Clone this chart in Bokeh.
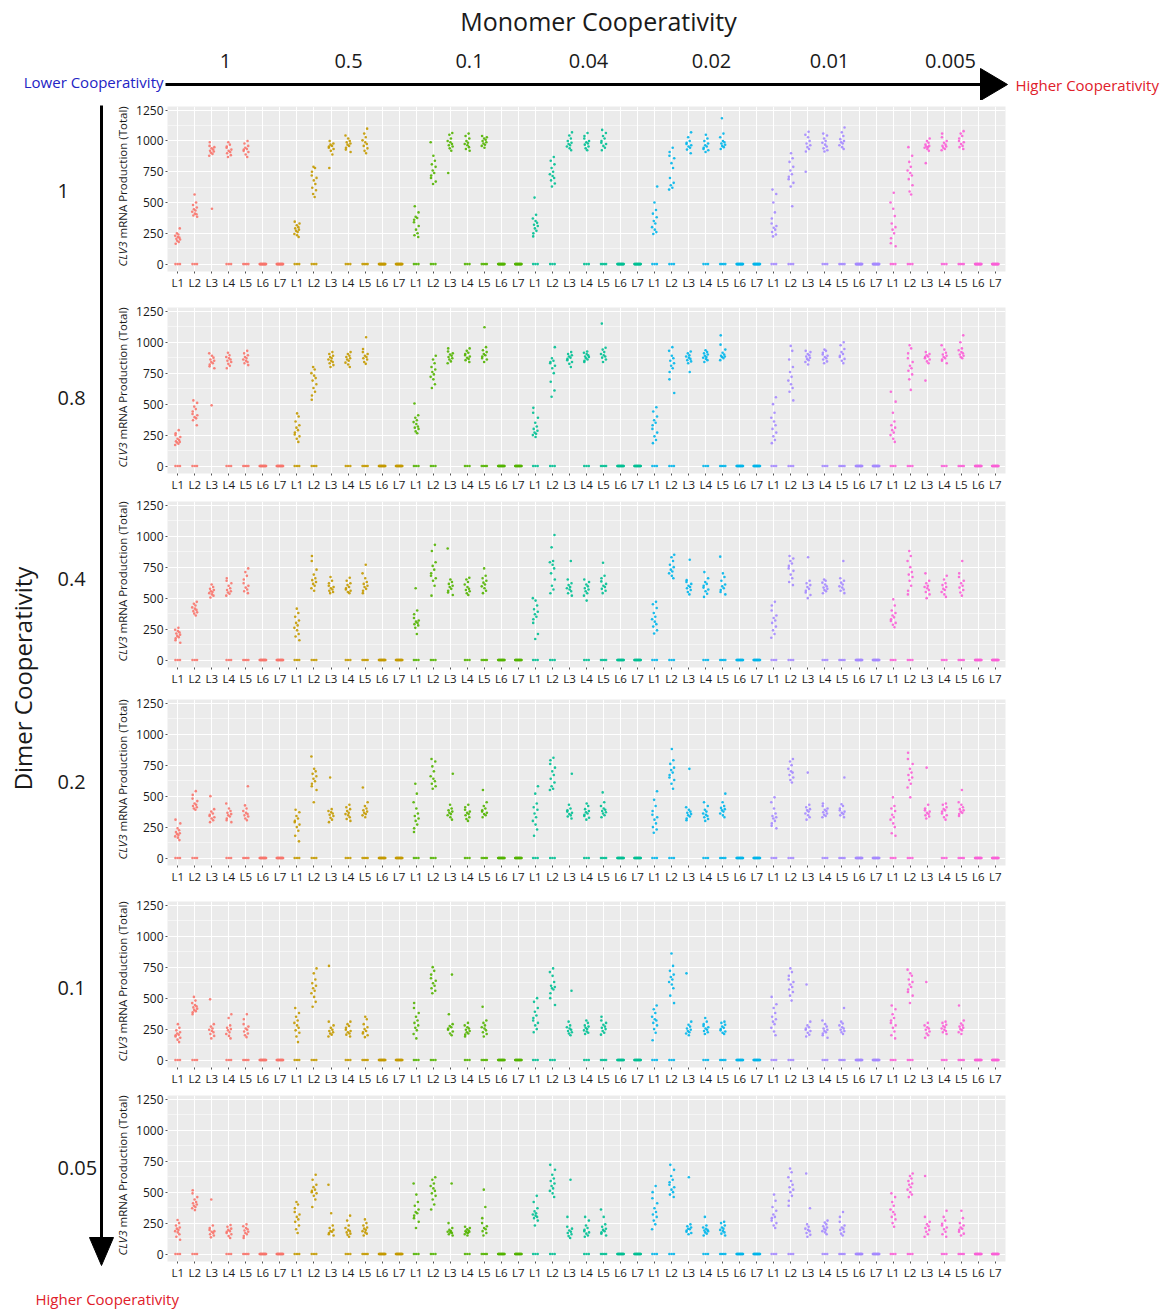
import math
from bokeh.plotting import figure
from bokeh.layouts import column, row
from bokeh.models import Range1d, FixedTicker, ColumnDataSource
from bokeh.core.properties import value
from bokeh.embed import file_html
from bokeh.resources import INLINE

# ---------------- data ----------------
LINES = ["L1", "L2", "L3", "L4", "L5", "L6", "L7"]
MONOMER = ["1", "0.5", "0.1", "0.04", "0.02", "0.01", "0.005"]
DIMER = ["1", "0.8", "0.4", "0.2", "0.1", "0.05"]
# number of plants with zero production, per line (L1..L7)
ZERO_COUNTS = [3, 3, 0, 3, 4, 16, 16]

# Dimer cooperativity 1 (values of the non-zero plants for L1..L5; L6, L7 are all zero)
R1G1 = [[165, 180, 190, 200, 205, 215, 220, 230, 240, 250, 290],
        [385, 395, 405, 410, 425, 435, 445, 460, 480, 500, 565],
        [450, 880, 895, 905, 915, 920, 930, 940, 950, 960, 990],
        [870, 885, 900, 910, 920, 930, 945, 955, 970, 990],
        [870, 890, 910, 920, 930, 935, 945, 960, 980, 1000]]
R1G2 = [[220, 235, 245, 260, 270, 280, 290, 300, 315, 330, 345],
        [545, 570, 600, 620, 650, 680, 700, 720, 750, 780, 790],
        [780, 890, 920, 935, 945, 955, 960, 970, 980, 1000],
        [910, 930, 945, 960, 970, 980, 990, 1000, 1020, 1045],
        [900, 920, 940, 960, 975, 990, 1005, 1030, 1060, 1100]]
R1G3 = [[220, 235, 250, 280, 310, 340, 360, 375, 385, 420, 470],
        [650, 670, 700, 720, 740, 760, 790, 810, 840, 880, 990],
        [740, 920, 940, 955, 965, 975, 990, 1000, 1020, 1050, 1065],
        [920, 935, 950, 965, 975, 985, 1000, 1020, 1040, 1060],
        [945, 960, 970, 980, 990, 1000, 1010, 1020, 1030, 1040]]
R1G4 = [[225, 250, 270, 290, 310, 320, 335, 350, 370, 400, 540],
        [630, 655, 680, 700, 715, 730, 750, 780, 810, 840, 870],
        [925, 940, 955, 965, 975, 985, 1000, 1020, 1045, 1070],
        [925, 940, 955, 970, 980, 990, 1000, 1020, 1040, 1065],
        [925, 945, 960, 975, 985, 1000, 1020, 1040, 1065, 1090]]
R1G5 = [[245, 260, 280, 300, 330, 350, 380, 410, 440, 500, 630],
        [605, 620, 640, 660, 700, 780, 820, 860, 880, 910, 945],
        [900, 930, 945, 955, 965, 975, 985, 1000, 1030, 1070],
        [910, 925, 935, 945, 955, 965, 980, 1000, 1020, 1050],
        [935, 950, 960, 970, 980, 990, 1000, 1030, 1060, 1185]]
R1G6 = [[225, 240, 260, 280, 295, 310, 330, 370, 420, 500, 570, 605],
        [470, 630, 660, 690, 710, 730, 760, 790, 830, 860, 900],
        [750, 915, 935, 950, 965, 980, 1000, 1030, 1050, 1075],
        [915, 925, 940, 955, 970, 985, 1000, 1020, 1045, 1060],
        [935, 950, 965, 980, 990, 1000, 1015, 1040, 1070, 1110]]
R1G7 = [[145, 170, 210, 250, 280, 300, 330, 390, 450, 500, 580],
        [565, 590, 640, 690, 720, 740, 760, 790, 830, 880, 950],
        [820, 920, 935, 945, 950, 955, 960, 970, 985, 1000, 1020],
        [925, 935, 945, 955, 960, 970, 985, 1000, 1030, 1060],
        [935, 950, 960, 975, 990, 1000, 1020, 1040, 1060, 1080]]

# Dimer cooperativity 0.8
R2G1 = [[170, 180, 190, 195, 200, 210, 220, 235, 250, 265, 290],
        [330, 370, 385, 395, 410, 420, 440, 460, 480, 510, 530],
        [490, 790, 805, 820, 830, 840, 850, 860, 875, 890, 910],
        [790, 810, 825, 840, 850, 860, 870, 880, 895, 915],
        [815, 830, 840, 850, 860, 870, 880, 895, 910, 930]]
R2G2 = [[195, 220, 240, 255, 270, 290, 310, 330, 360, 400, 425],
        [535, 570, 600, 630, 660, 690, 710, 730, 750, 780, 800],
        [800, 815, 830, 840, 850, 860, 870, 880, 890, 905, 920],
        [800, 820, 835, 850, 860, 870, 880, 890, 905, 920],
        [825, 840, 860, 870, 880, 890, 905, 920, 945, 1040]]
R2G3 = [[265, 280, 300, 310, 320, 340, 355, 370, 390, 410, 505],
        [630, 660, 700, 720, 740, 760, 780, 800, 830, 860, 890],
        [830, 845, 860, 870, 880, 890, 900, 910, 925, 950],
        [840, 855, 865, 875, 885, 895, 905, 915, 930, 950],
        [840, 860, 870, 885, 895, 905, 920, 935, 960, 1120]]
R2G4 = [[235, 250, 260, 270, 285, 300, 320, 350, 390, 430, 470],
        [560, 610, 680, 750, 790, 810, 830, 840, 850, 870, 960],
        [800, 825, 840, 855, 865, 875, 885, 895, 905, 920],
        [840, 850, 860, 870, 880, 885, 895, 905, 915, 925],
        [840, 860, 875, 885, 895, 905, 920, 940, 955, 1150]]
R2G5 = [[185, 210, 240, 270, 300, 330, 350, 370, 400, 440, 475],
        [590, 700, 760, 790, 810, 830, 850, 870, 890, 930, 960],
        [760, 830, 845, 855, 865, 875, 885, 895, 910, 925],
        [840, 855, 865, 875, 880, 890, 900, 910, 920, 935],
        [855, 870, 880, 885, 890, 900, 915, 940, 980, 1055]]
R2G6 = [[185, 210, 240, 270, 300, 330, 360, 390, 430, 500, 555],
        [530, 600, 630, 660, 690, 720, 760, 800, 860, 930, 970],
        [820, 840, 855, 865, 875, 885, 895, 905, 920, 930],
        [830, 845, 860, 870, 880, 890, 900, 915, 930, 940],
        [830, 850, 865, 880, 890, 905, 920, 945, 975, 1000]]
R2G7 = [[195, 220, 250, 270, 290, 310, 330, 360, 430, 520, 600],
        [615, 700, 740, 770, 790, 810, 840, 870, 910, 950, 975],
        [690, 830, 845, 860, 870, 880, 885, 895, 905, 920],
        [830, 850, 860, 870, 880, 890, 900, 915, 940, 975],
        [870, 880, 890, 900, 910, 920, 935, 950, 1000, 1055]]

# Dimer cooperativity 0.4
R3G1 = [[140, 160, 175, 185, 195, 205, 215, 225, 235, 245, 260],
        [360, 375, 385, 395, 405, 415, 425, 440, 455, 470],
        [505, 520, 530, 540, 550, 555, 565, 575, 590, 610],
        [520, 535, 545, 555, 565, 580, 600, 620, 640, 660],
        [540, 555, 570, 585, 600, 620, 650, 680, 710, 740]]
R3G2 = [[160, 190, 210, 240, 260, 280, 300, 320, 350, 380, 415],
        [560, 580, 600, 615, 630, 645, 660, 690, 730, 800, 840],
        [540, 550, 560, 570, 580, 590, 600, 620, 640, 670],
        [540, 550, 560, 570, 580, 590, 605, 620, 640, 665],
        [540, 560, 575, 590, 600, 615, 630, 660, 700, 770]]
R3G3 = [[210, 260, 280, 290, 300, 310, 320, 340, 370, 400, 580],
        [520, 600, 640, 660, 680, 700, 730, 760, 790, 880, 930],
        [525, 545, 560, 575, 590, 600, 615, 630, 650, 900],
        [525, 540, 555, 565, 575, 590, 610, 630, 650, 665],
        [540, 560, 580, 595, 610, 625, 640, 660, 680, 740]]
R3G4 = [[170, 210, 300, 330, 350, 370, 390, 410, 440, 480, 500],
        [540, 570, 600, 650, 700, 740, 770, 790, 800, 910, 1010],
        [520, 540, 555, 570, 580, 590, 605, 620, 650, 800],
        [480, 520, 540, 555, 570, 580, 595, 610, 630, 650],
        [540, 560, 575, 590, 600, 615, 635, 660, 680, 785]]
R3G5 = [[215, 240, 270, 290, 310, 330, 350, 380, 420, 450, 470],
        [660, 680, 700, 715, 730, 750, 770, 800, 830, 850],
        [530, 550, 565, 580, 590, 600, 615, 630, 645, 810],
        [510, 535, 555, 570, 585, 600, 615, 630, 660, 710],
        [530, 550, 565, 580, 595, 610, 640, 670, 700, 835]]
R3G6 = [[180, 210, 240, 270, 300, 320, 340, 360, 400, 440, 470],
        [605, 630, 660, 690, 720, 740, 760, 780, 800, 820, 840],
        [500, 525, 545, 560, 575, 590, 605, 620, 640, 830],
        [540, 555, 565, 575, 585, 595, 610, 625, 640, 650],
        [540, 560, 570, 585, 595, 610, 625, 640, 660, 800]]
R3G7 = [[265, 285, 300, 315, 330, 345, 360, 380, 400, 440, 490],
        [530, 560, 600, 640, 670, 690, 710, 750, 800, 840, 880],
        [500, 530, 550, 565, 580, 590, 600, 620, 640, 700],
        [510, 530, 550, 565, 575, 590, 605, 620, 650, 680],
        [520, 545, 565, 585, 600, 620, 640, 670, 700, 800]]

# Dimer cooperativity 0.2
R4G1 = [[145, 165, 175, 185, 195, 200, 210, 225, 240, 280, 310],
        [390, 400, 410, 420, 430, 440, 460, 480, 510, 540],
        [290, 305, 320, 330, 340, 350, 360, 375, 395, 500],
        [290, 305, 320, 335, 345, 355, 365, 380, 400, 440],
        [305, 320, 335, 345, 355, 365, 380, 400, 425, 580]]
R4G2 = [[135, 180, 220, 250, 270, 290, 300, 320, 340, 370, 390],
        [450, 550, 580, 600, 620, 640, 660, 680, 700, 720, 820],
        [290, 310, 325, 340, 350, 360, 370, 380, 395, 650],
        [300, 315, 330, 345, 355, 365, 380, 395, 410, 430],
        [330, 345, 355, 365, 375, 385, 400, 420, 450, 570]]
R4G3 = [[210, 240, 270, 300, 320, 340, 360, 400, 450, 520, 600],
        [560, 580, 600, 620, 640, 660, 700, 740, 780, 800],
        [310, 330, 345, 355, 365, 375, 385, 400, 430, 680],
        [300, 315, 330, 345, 355, 365, 375, 390, 410, 430],
        [330, 345, 355, 365, 375, 385, 400, 420, 450, 550]]
R4G4 = [[180, 230, 270, 300, 330, 360, 390, 410, 440, 520, 580],
        [550, 560, 580, 610, 640, 670, 700, 730, 760, 790, 810],
        [320, 335, 345, 355, 365, 375, 385, 400, 430, 680],
        [310, 325, 340, 350, 360, 370, 380, 395, 420, 440],
        [330, 345, 360, 370, 380, 390, 400, 420, 450, 530]]
R4G5 = [[205, 230, 250, 280, 310, 330, 350, 380, 420, 470, 540],
        [560, 600, 630, 650, 670, 690, 710, 730, 760, 790, 880],
        [305, 320, 335, 345, 355, 365, 375, 390, 410, 720],
        [300, 315, 330, 340, 350, 360, 375, 390, 420, 450],
        [330, 345, 360, 375, 385, 395, 405, 420, 450, 520]]
R4G6 = [[240, 260, 280, 300, 320, 330, 340, 360, 400, 450, 490],
        [610, 630, 650, 670, 690, 700, 720, 750, 780, 800],
        [310, 330, 345, 360, 375, 385, 395, 410, 430, 690],
        [330, 340, 350, 360, 370, 380, 390, 400, 420, 440],
        [330, 345, 355, 365, 375, 385, 400, 420, 435, 650]]
R4G7 = [[180, 200, 250, 280, 310, 330, 350, 380, 400, 420, 490],
        [490, 570, 600, 630, 650, 670, 690, 720, 760, 800, 850],
        [320, 335, 345, 355, 365, 375, 385, 400, 430, 730],
        [310, 330, 345, 360, 375, 385, 395, 410, 430, 440],
        [340, 355, 365, 375, 385, 395, 410, 430, 450, 550]]

# Dimer cooperativity 0.1
R5G1 = [[145, 165, 180, 190, 200, 205, 215, 225, 240, 260, 290],
        [370, 385, 395, 405, 415, 425, 435, 445, 460, 480, 510],
        [175, 195, 210, 225, 235, 245, 255, 270, 290, 490],
        [175, 195, 210, 225, 240, 250, 260, 280, 340, 370],
        [185, 200, 215, 230, 245, 255, 270, 290, 330, 370]]
R5G2 = [[145, 190, 220, 240, 260, 280, 300, 320, 350, 380, 420],
        [430, 470, 510, 540, 560, 580, 600, 620, 650, 700, 740],
        [190, 205, 215, 225, 235, 245, 260, 280, 310, 760],
        [190, 205, 215, 225, 235, 245, 260, 275, 290, 310],
        [185, 200, 215, 225, 235, 250, 265, 290, 330, 350]]
R5G3 = [[175, 210, 240, 260, 280, 300, 320, 350, 380, 420, 460],
        [540, 560, 580, 600, 620, 640, 660, 690, 720, 750],
        [200, 215, 230, 245, 255, 265, 275, 290, 370, 690],
        [190, 205, 215, 225, 235, 245, 255, 265, 280, 300],
        [190, 210, 225, 240, 255, 265, 280, 300, 320, 430]]
R5G4 = [[225, 250, 280, 300, 320, 340, 360, 390, 420, 470, 500],
        [445, 500, 540, 570, 580, 590, 600, 630, 680, 710, 740],
        [200, 215, 225, 235, 245, 255, 265, 280, 310, 560],
        [210, 220, 230, 240, 250, 260, 270, 280, 300, 320],
        [205, 220, 235, 250, 260, 270, 285, 300, 320, 350]]
R5G5 = [[160, 220, 250, 280, 300, 320, 330, 350, 380, 410, 440],
        [460, 520, 580, 610, 630, 650, 670, 690, 720, 760, 860],
        [200, 215, 225, 235, 245, 255, 270, 285, 310, 700],
        [210, 225, 235, 245, 255, 265, 275, 290, 310, 340],
        [210, 220, 230, 240, 250, 260, 270, 285, 300, 310]]
R5G6 = [[200, 230, 260, 290, 310, 330, 350, 380, 420, 450, 510],
        [480, 520, 550, 570, 590, 610, 630, 650, 680, 710, 740],
        [190, 205, 220, 235, 245, 255, 265, 280, 310, 610],
        [180, 200, 215, 225, 235, 245, 255, 270, 290, 320],
        [210, 225, 235, 245, 255, 265, 280, 295, 310, 420]]
R5G7 = [[175, 200, 230, 260, 280, 300, 320, 340, 370, 410, 440],
        [460, 520, 550, 570, 590, 610, 630, 650, 680, 700, 730],
        [180, 200, 215, 230, 245, 255, 265, 280, 300, 630],
        [210, 225, 235, 245, 255, 265, 275, 285, 300, 310],
        [210, 225, 240, 250, 260, 270, 280, 295, 320, 440]]

# Dimer cooperativity 0.05
R6G1 = [[115, 140, 160, 175, 185, 195, 205, 215, 230, 250, 275],
        [355, 370, 380, 390, 400, 410, 420, 440, 460, 490, 515],
        [135, 150, 160, 170, 180, 185, 195, 210, 230, 440],
        [130, 145, 160, 170, 180, 185, 195, 205, 220, 235],
        [130, 145, 160, 170, 180, 190, 200, 210, 225, 240]]
R6G2 = [[170, 200, 230, 260, 280, 300, 320, 340, 370, 400, 420],
        [380, 440, 470, 490, 500, 510, 520, 540, 560, 600, 640],
        [150, 160, 170, 180, 185, 195, 210, 230, 330, 560],
        [140, 155, 165, 175, 185, 195, 210, 230, 270, 310],
        [150, 165, 175, 185, 195, 205, 215, 230, 250, 280]]
R6G3 = [[210, 260, 290, 310, 330, 340, 360, 390, 420, 480, 570],
        [360, 400, 440, 470, 490, 510, 530, 550, 570, 600, 620],
        [150, 160, 170, 175, 180, 185, 195, 210, 250, 570],
        [150, 160, 170, 175, 180, 185, 190, 200, 210, 220],
        [150, 170, 185, 200, 210, 225, 250, 290, 380, 520]]
R6G4 = [[230, 270, 290, 300, 310, 320, 330, 345, 370, 420, 470],
        [460, 490, 510, 530, 550, 570, 590, 610, 640, 680, 720],
        [130, 145, 160, 170, 180, 190, 205, 220, 300, 600],
        [140, 150, 165, 175, 185, 195, 210, 230, 270, 300],
        [150, 165, 175, 185, 195, 205, 220, 240, 300, 360]]
R6G5 = [[200, 240, 270, 300, 320, 340, 370, 410, 450, 500, 550],
        [460, 480, 500, 520, 540, 560, 580, 600, 630, 680, 720],
        [160, 170, 180, 190, 200, 205, 215, 225, 240, 620],
        [150, 165, 175, 185, 190, 195, 205, 215, 230, 300],
        [150, 165, 175, 185, 195, 205, 215, 230, 250, 260]]
R6G6 = [[210, 230, 250, 270, 290, 300, 320, 350, 380, 430, 480],
        [390, 430, 470, 500, 520, 540, 560, 590, 620, 660, 690],
        [140, 155, 170, 185, 195, 205, 220, 240, 370, 650],
        [160, 175, 185, 195, 205, 215, 225, 240, 255, 270],
        [150, 165, 180, 195, 205, 215, 230, 260, 300, 340]]
R6G7 = [[220, 250, 280, 300, 320, 340, 360, 390, 420, 460, 490],
        [460, 480, 500, 520, 540, 560, 570, 590, 610, 630, 650],
        [140, 160, 180, 195, 210, 225, 240, 260, 300, 630],
        [140, 160, 180, 200, 215, 230, 245, 270, 300, 350],
        [150, 165, 180, 195, 205, 215, 230, 250, 290, 350]]

ROWS = [
    [R1G1, R1G2, R1G3, R1G4, R1G5, R1G6, R1G7],
    [R2G1, R2G2, R2G3, R2G4, R2G5, R2G6, R2G7],
    [R3G1, R3G2, R3G3, R3G4, R3G5, R3G6, R3G7],
    [R4G1, R4G2, R4G3, R4G4, R4G5, R4G6, R4G7],
    [R5G1, R5G2, R5G3, R5G4, R5G5, R5G6, R5G7],
    [R6G1, R6G2, R6G3, R6G4, R6G5, R6G6, R6G7],
]

# ---------------- styling / layout ----------------
COLORS = ["#F8766D", "#C49A00", "#53B400", "#00C094", "#00B6EB", "#A58AFF", "#FB61D7"]
FONT = "Open Sans"
TXT = "#1a1a1a"
BLUE = "#2323c4"
RED = "#e0202a"
JIT = [-0.12, 0.06, -0.03, 0.14, -0.08, 0.10, 0.01, -0.15, 0.04, -0.05,
       0.12, -0.10, 0.08, -0.01, 0.15, -0.13]

PAGE_W = 1170
HEADER_H = 100
LEFT_W = 130
BOUNDS = [100, 292, 494, 688, 886, 1088, 1284]
FRAME_TOPS = [106, 307, 501, 699, 901, 1095]
FRAME_H = 166
FRAME_LEFT = 167
FRAME_W = 838
Y_MIN, Y_MAX = -60, 1280
X_MIN, X_MAX = 0.4, 49.6


def anno_fig(w, h, xr, yr):
    f = figure(width=w, height=h, x_range=Range1d(*xr), y_range=Range1d(*yr),
               output_backend="svg", toolbar_location=None,
               x_axis_type=None, y_axis_type=None, min_border=0,
               outline_line_color=None)
    f.grid.visible = False
    return f


def txt(f, x, y, s, size, color=TXT, align="center", angle=0.0, style="normal"):
    f.text(x=[x], y=[y], text=[s], text_font=value(FONT), text_font_size=size,
           text_color=color, text_align=align, text_baseline="middle",
           angle=angle, text_font_style=style)


# header
hdr = anno_fig(PAGE_W, HEADER_H, (0, PAGE_W), (HEADER_H, 0))
txt(hdr, 598, 20, "Monomer Cooperativity", "25px")
MONO_X = [225, 348, 469, 588, 711, 829, 950]
for xm, lab in zip(MONO_X, MONOMER):
    txt(hdr, xm, 60, lab, "20px")
hdr.line([165, 985], [84, 84], line_width=3, line_color="black")
hdr.patch([980, 1007, 980], [68, 84, 100], fill_color="black", line_color="black")
txt(hdr, 163, 81, "Lower Cooperativity", "15px", color=BLUE, align="right")
txt(hdr, 1015, 84, "Higher Cooperativity", "15px", color=RED, align="left")

# left strip: vertical arrow, row labels, y-axis titles of the panels
body_h = BOUNDS[-1] - BOUNDS[0]
left = anno_fig(LEFT_W, body_h, (0, LEFT_W), (BOUNDS[-1], BOUNDS[0]))
left.line([101, 101], [105, 1240], line_width=3, line_color="black")
left.patch([89, 113, 101], [1237, 1237, 1265], fill_color="black", line_color="black")
ROW_LABEL_Y = [190, 397, 578, 781, 987, 1167]
for yl, lab in zip(ROW_LABEL_Y, DIMER):
    txt(left, 57, yl, lab, "20px", align="left")
txt(left, 22, 678, "Dimer Cooperativity", "24px", angle=math.pi / 2)
for r in range(6):
    pivot = FRAME_TOPS[r] + FRAME_H / 2 + 52
    txt(left, 122, pivot, "CLV3", "11.5px", align="right", angle=math.pi / 2,
        style="italic")
    txt(left, 122, pivot - 3, "mRNA Production (Total)", "11.5px", align="left",
        angle=math.pi / 2)

# panels
panels = []
for r in range(6):
    h = BOUNDS[r + 1] - BOUNDS[r]
    bt = FRAME_TOPS[r] - BOUNDS[r]
    bb = h - FRAME_H - bt
    p = figure(width=PAGE_W - LEFT_W, height=h,
               x_range=Range1d(X_MIN, X_MAX), y_range=Range1d(Y_MIN, Y_MAX),
               min_border_left=FRAME_LEFT - LEFT_W,
               min_border_right=PAGE_W - FRAME_LEFT - FRAME_W,
               min_border_top=bt, min_border_bottom=bb,
               output_backend="svg", toolbar_location=None,
               background_fill_color="#EBEBEB", border_fill_color="white",
               outline_line_color=None)
    xt = FixedTicker(ticks=list(range(1, 50)))
    yt = FixedTicker(ticks=[0, 250, 500, 750, 1000, 1250],
                     minor_ticks=[125, 375, 625, 875, 1125])
    p.xaxis.ticker = xt
    p.xaxis.major_label_overrides = {k: LINES[(k - 1) % 7] for k in range(1, 50)}
    p.yaxis.ticker = yt
    for ax in (p.xaxis[0], p.yaxis[0]):
        ax.axis_line_color = None
        ax.major_tick_line_color = "#555555"
        ax.major_tick_in = 0
        ax.minor_tick_in = 0
        ax.minor_tick_out = 0
        ax.major_label_text_font = FONT
        ax.major_label_text_color = TXT
    p.xaxis.major_tick_out = 2
    p.xaxis.major_label_standoff = 1
    p.xaxis.major_label_text_font_size = "11.5px"
    p.yaxis.major_tick_out = 2
    p.yaxis.major_label_standoff = 2
    p.yaxis.major_label_text_font_size = "12px"
    p.xgrid.ticker = xt
    p.ygrid.ticker = yt
    p.xgrid.grid_line_color = "white"
    p.ygrid.grid_line_color = "white"
    p.xgrid.grid_line_width = 1
    p.ygrid.grid_line_width = 1
    p.ygrid.minor_grid_line_color = "white"
    p.ygrid.minor_grid_line_width = 0.5

    xs, ys, cs = [], [], []
    for g in range(7):
        grp = ROWS[r][g]
        for li in range(7):
            k = g * 7 + li + 1
            vals = grp[li] if li < len(grp) else []
            for j, v in enumerate(vals):
                xs.append(k + JIT[(j + 3 * li + 5 * g + 7 * r) % len(JIT)])
                ys.append(v)
                cs.append(COLORS[g])
            n0 = ZERO_COUNTS[li]
            for j in range(n0):
                xs.append(k - 0.2 + 0.4 * (j + 0.5) / n0)
                ys.append(0)
                cs.append(COLORS[g])
    src = ColumnDataSource(dict(x=xs, y=ys, c=cs))
    p.scatter("x", "y", source=src, size=2.6, fill_color="c", line_color=None,
              fill_alpha=0.9)
    panels.append(p)

# footer
foot = anno_fig(PAGE_W, 1309 - BOUNDS[-1], (0, PAGE_W), (1309, BOUNDS[-1]))
txt(foot, 35, 1298, "Higher Cooperativity", "15px", color=RED, align="left")

layout = column(hdr, row(left, column(*panels)), foot)
open("out.html", "w").write(file_html(layout, INLINE))
